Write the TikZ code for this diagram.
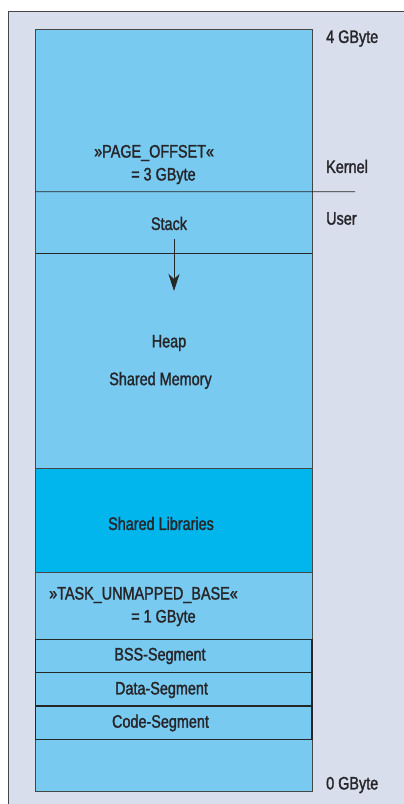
\documentclass[tikz,border=0pt]{standalone}
\usepackage{fontspec}
\setmainfont{Liberation Sans}[FakeStretch=0.8,FakeBold=1.6]
\usetikzlibrary{arrows.meta}
\definecolor{bg}{RGB}{216,222,235}
\definecolor{mem}{RGB}{121,202,240}
\definecolor{lib}{RGB}{0,182,236}
\definecolor{framec}{RGB}{70,70,70}
\definecolor{txt}{RGB}{38,38,42}
\begin{document}
\begin{tikzpicture}[x=1pt,y=-1pt,
  lbl/.style={font=\fontsize{18}{20}\selectfont, inner sep=0pt, text=txt},
  region/.style={anchor=north west, minimum width=276.5pt, inner sep=0pt, outer sep=0pt},
  sep/.style={draw=black!85, line width=0.9pt},
  thinsep/.style={draw=framec, line width=0.7pt}]
\useasboundingbox (0,0) rectangle (404,804);
\fill[white] (0,0) rectangle (404,804);
\fill[bg] (8,11) rectangle (405,805);
\draw[framec, line width=0.8pt] (8,805) -- (8,11) -- (405,11);

% regions
\node[region, fill=mem, minimum height=162.2pt] (kernel) at (35.5,29.5) {};
\node[region, fill=mem, minimum height=61.6pt] (stack) at (35.5,191.7) {};
\node[region, fill=mem, minimum height=215pt] (heap) at (35.5,253.3) {};
\node[region, fill=lib, minimum height=104pt] (libs) at (35.5,468.3) {};
\node[region, fill=mem, minimum height=67pt] (task) at (35.5,572.3) {};
\node[region, fill=mem, minimum height=33.4pt] (bss) at (35.5,639.3) {};
\node[region, fill=mem, minimum height=33.3pt] (data) at (35.5,672.7) {};
\node[region, fill=mem, minimum height=33.3pt] (code) at (35.5,706) {};
\node[region, fill=mem, minimum height=52.4pt] (bottom) at (35.5,739.3) {};

% outline
\draw[thinsep] (kernel.north west) rectangle (bottom.south east);
\coordinate (kend) at (355,191.7);
\draw[sep] (kernel.south west) -- (kend);
\draw[sep, line width=0.8pt] (stack.south west) -- (stack.south east);
\draw[thinsep] (libs.north west) -- (libs.north east);
\draw[thinsep] (libs.south west) -- (libs.south east);
\draw[sep, line width=1.1pt] (bss.north west) rectangle (code.south east);
\draw[sep, line width=1.1pt] (data.north west) -- (data.north east);
\draw[sep, line width=1.1pt] (code.north west) -- (code.north east);

% texts
\node[lbl, anchor=west] (pol) at (94,153) {»PAGE\_OFFSET«};
\node[lbl, anchor=west] (po2) at (131,176) {= 3 GByte};
\node[lbl] (stacklbl) at (169,223.5) {Stack};
\node[lbl] (heaplbl) at (169,343) {Heap};
\node[lbl] (shmlbl) at (160.5,380.5) {Shared Memory};
\node[lbl] (libslbl) at (161,523.5) {Shared Libraries};
\node[lbl, anchor=west] (tul) at (49,595) {»TASK\_UNMAPPED\_BASE«};
\node[lbl, anchor=west] (tu2) at (131,618) {= 1 GByte};
\node[lbl] (bsslbl) at (160,656) {BSS-Segment};
\node[lbl] (datalbl) at (161.5,690) {Data-Segment};
\node[lbl] (codelbl) at (160.5,723) {Code-Segment};

\node[lbl, anchor=west] (g4) at (326,38.5) {4 GByte};
\node[lbl, anchor=west] (kl) at (326,166.5) {Kernel};
\node[lbl, anchor=west] (ul) at (326,218.5) {User};
\node[lbl, anchor=west] (g0) at (326,785) {0 GByte};

% stack growth arrow
\coordinate (arrs) at (174,239);
\coordinate (arre) at (174,291);
\draw[black!85, line width=0.8pt, -{Stealth[length=17pt,width=11pt,inset=5pt]}] (arrs) -- (arre);
\end{tikzpicture}
\end{document}
